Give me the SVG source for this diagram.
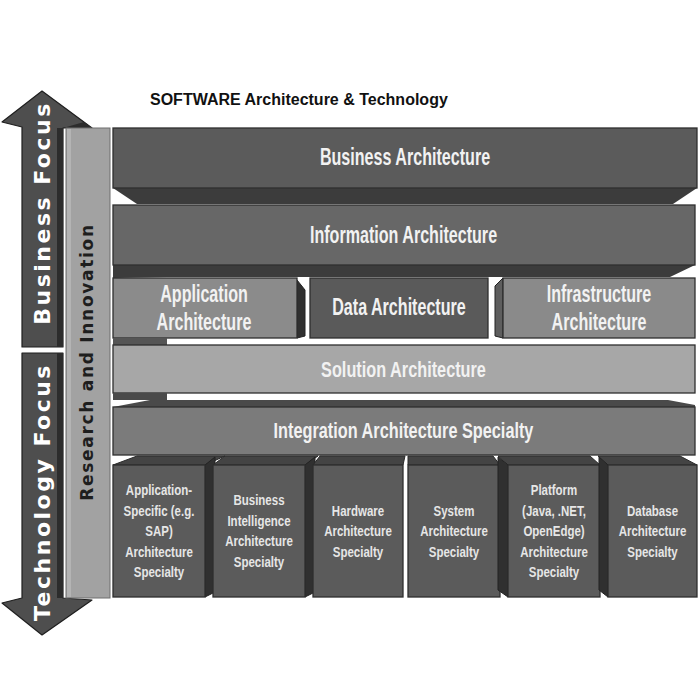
<svg xmlns="http://www.w3.org/2000/svg" width="700" height="700" viewBox="0 0 700 700">
<style>
  .bg { fill: #ffffff; }
  .arrow { fill: #4e4e4e; stroke: #1e1e1e; stroke-width: 1.2; stroke-linejoin: round; }
  .arrowside { fill: #2c2c2c; }
  .col { fill: #a2a2a2; stroke: #6e6e6e; stroke-width: 1; }
  .box { stroke: #2e2e2e; stroke-width: 1.3; }
  .band { fill: #3c3c3c; }
  .top { fill: #444444; stroke: #2a2a2a; stroke-width: 1; }
  .side { fill: #303030; stroke: #222; stroke-width: 1; }
  .lbl { font-family: 'Liberation Sans', Arial, sans-serif; font-size: 23px; font-weight: bold; fill: #f2f2f2; text-anchor: middle; }
  .lbl2 { font-family: 'Liberation Sans', Arial, sans-serif; font-size: 22px; font-weight: bold; fill: #f2f2f2; text-anchor: middle; }
  .small { font-family: 'Liberation Sans', Arial, sans-serif; font-size: 14px; font-weight: bold; fill: #e6e6e6; text-anchor: middle; }
  .focus { font-family: 'DejaVu Sans', Verdana, sans-serif; font-size: 22px; font-weight: bold; fill: #ffffff; text-anchor: middle; letter-spacing: 2.5px; }
  .research { font-family: 'DejaVu Sans', Verdana, sans-serif; font-size: 17px; font-weight: bold; fill: #1e1e1e; text-anchor: middle; letter-spacing: 1.7px; }
  .title { font-family: 'Liberation Sans', Arial, sans-serif; font-size: 16px; font-weight: bold; fill: #111; }
</style>
<rect class="bg" x="0" y="0" width="700" height="700"/>

<text id="title" class="title" x="150" y="105">SOFTWARE Architecture &amp; Technology</text>

<g id="business-focus">
  <polygon class="arrow" points="22,347 22,127 2,122 42,91 92,128 63,128 63,347"/>
  <rect class="arrowside" x="57" y="128" width="6" height="219"/>
  <polygon class="arrowside" points="63,128 92,128 84,122"/>
  <text class="focus" transform="translate(50,213) rotate(-90)">Business Focus</text>
</g>

<g id="technology-focus">
  <polygon class="arrow" points="22,353 63,353 63,598 92,600 42,635 2,603 22,598"/>
  <rect class="arrowside" x="57" y="353" width="6" height="245"/>
  <text class="focus" transform="translate(50,492) rotate(-90)">Technology Focus</text>
</g>

<g id="research-innovation">
  <rect class="col" x="66" y="128" width="44" height="470"/>
  <rect x="67" y="129" width="4" height="468" fill="#b4b4b4"/>
  <text class="research" transform="translate(93,362) rotate(-90)">Research and Innovation</text>
</g>

<g id="business-architecture">
  <polygon class="band" points="113,188 697,188 673,204 137,204"/>
  <rect class="box" x="113" y="128" width="584" height="60" fill="#5b5b5b"/>
  <text class="lbl" transform="translate(405,165) scale(0.70,1)">Business Architecture</text>
</g>

<g id="information-architecture">
  <polygon class="band" points="113,265 695,265 670,277 167,277 113,278"/>
  <rect class="box" x="113" y="205" width="582" height="60" fill="#676767"/>
  <text class="lbl" transform="translate(403.5,243) scale(0.70,1)">Information Architecture</text>
</g>

<g id="application-architecture">
  <polygon class="side" points="297,280 305,290 305,336 297,338"/>
  <rect class="box" x="113" y="278" width="184" height="60" fill="#8b8b8b"/>
  <text class="lbl" transform="translate(204,302) scale(0.70,1)">Application</text>
  <text class="lbl" transform="translate(204,330) scale(0.70,1)">Architecture</text>
</g>

<g id="data-architecture">
  <rect class="box" x="310" y="278" width="178" height="60" fill="#5a5a5a"/>
  <text class="lbl" transform="translate(399,315) scale(0.70,1)">Data Architecture</text>
</g>

<g id="infrastructure-architecture">
  <polygon class="side" points="495,286 503,278 503,338 495,336" style="fill:#5e5e5e"/>
  <rect class="box" x="503" y="278" width="192" height="60" fill="#8a8a8a"/>
  <text class="lbl" transform="translate(599,302) scale(0.70,1)">Infrastructure</text>
  <text class="lbl" transform="translate(599,330) scale(0.70,1)">Architecture</text>
</g>

<g id="solution-architecture">
  <polygon class="band" points="113,338 167,338 167,345 113,345" style="fill:#555"/>
  <rect class="box" x="113" y="345" width="582" height="48" fill="#a7a7a7"/>
  <text class="lbl2" transform="translate(403.5,377) scale(0.74,1)">Solution Architecture</text>
</g>

<g id="integration-architecture">
  <polygon class="band" points="113,393 167,393 167,400 113,400" style="fill:#4a4a4a"/>
  <polygon class="band" points="113,407 150,400 668,400 695,405 695,407" style="fill:#4a4a4a"/>
  <rect class="box" x="113" y="407" width="582" height="48" fill="#7b7b7b"/>
  <text class="lbl2" transform="translate(403.5,438) scale(0.74,1)">Integration Architecture Specialty</text>
</g>

<g id="app-specific-specialty">
  <polygon class="top" points="113,465 137,456 225,456 205,465"/>
  <polygon class="side" points="205,465 215,457 215,592 205,597"/>
  <rect class="box" x="113" y="465" width="92" height="132" fill="#5b5b5b"/>
  <g class="small">
    <text transform="translate(159,495) scale(0.82,1)">Application-</text>
    <text transform="translate(159,515.5) scale(0.82,1)">Specific (e.g.</text>
    <text transform="translate(159,536) scale(0.82,1)">SAP)</text>
    <text transform="translate(159,556.5) scale(0.82,1)">Architecture</text>
    <text transform="translate(159,577) scale(0.82,1)">Specialty</text>
  </g>
</g>

<g id="bi-specialty">
  <polygon class="top" points="213,465 225,456 318,456 305,465"/>
  <polygon class="side" points="305,465 315,457 315,592 305,597"/>
  <rect class="box" x="213" y="465" width="92" height="132" fill="#5b5b5b"/>
  <g class="small">
    <text transform="translate(259,505) scale(0.82,1)">Business</text>
    <text transform="translate(259,525.5) scale(0.82,1)">Intelligence</text>
    <text transform="translate(259,546) scale(0.82,1)">Architecture</text>
    <text transform="translate(259,566.5) scale(0.82,1)">Specialty</text>
  </g>
</g>

<g id="hardware-specialty">
  <polygon class="top" points="313,465 320,456 405,456 403,465"/>
  <rect class="box" x="313" y="465" width="90" height="132" fill="#5b5b5b"/>
  <g class="small">
    <text transform="translate(358,515.5) scale(0.82,1)">Hardware</text>
    <text transform="translate(358,536) scale(0.82,1)">Architecture</text>
    <text transform="translate(358,556.5) scale(0.82,1)">Specialty</text>
  </g>
</g>

<g id="system-specialty">
  <polygon class="top" points="408,465 408,456 493,456 500,465"/>
  <rect class="box" x="408" y="465" width="92" height="132" fill="#5b5b5b"/>
  <g class="small">
    <text transform="translate(454,515.5) scale(0.82,1)">System</text>
    <text transform="translate(454,536) scale(0.82,1)">Architecture</text>
    <text transform="translate(454,556.5) scale(0.82,1)">Specialty</text>
  </g>
</g>

<g id="platform-specialty">
  <polygon class="top" points="498,456 590,456 600,465 508,465"/>
  <polygon class="side" points="498,457 508,465 508,597 498,590"/>
  <rect class="box" x="508" y="465" width="92" height="132" fill="#5b5b5b"/>
  <g class="small">
    <text transform="translate(554,495) scale(0.82,1)">Platform</text>
    <text transform="translate(554,515.5) scale(0.82,1)">(Java, .NET,</text>
    <text transform="translate(554,536) scale(0.82,1)">OpenEdge)</text>
    <text transform="translate(554,556.5) scale(0.82,1)">Architecture</text>
    <text transform="translate(554,577) scale(0.82,1)">Specialty</text>
  </g>
</g>

<g id="database-specialty">
  <polygon class="top" points="598,456 680,456 697,465 608,465"/>
  <polygon class="side" points="599,457 608,465 608,597 599,590"/>
  <rect class="box" x="608" y="465" width="89" height="132" fill="#5b5b5b"/>
  <g class="small">
    <text transform="translate(652.5,515.5) scale(0.82,1)">Database</text>
    <text transform="translate(652.5,536) scale(0.82,1)">Architecture</text>
    <text transform="translate(652.5,556.5) scale(0.82,1)">Specialty</text>
  </g>
</g>

<g id="connectors"></g>
</svg>
